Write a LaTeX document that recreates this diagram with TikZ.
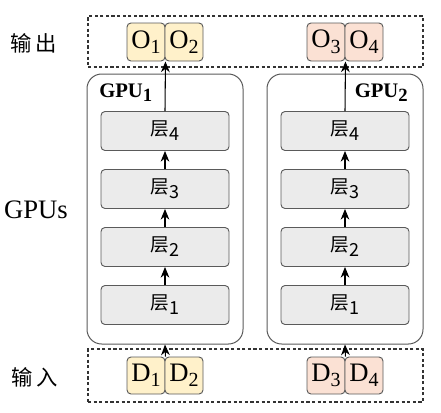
\documentclass[tikz,border=0pt]{standalone}
\usepackage{fontspec}
\setmainfont{Liberation Serif}
\newfontfamily\cjk{Noto Sans CJK SC}
\usetikzlibrary{arrows.meta}
\definecolor{edgegray}{HTML}{5A5A5A}
\definecolor{layerfill}{HTML}{EBEBEB}
\definecolor{yellowfill}{HTML}{FFF1CA}
\definecolor{pinkfill}{HTML}{FBE1D4}
\newcommand\dsub[1]{\raisebox{-0.45ex}{\fontsize{15}{15}\selectfont #1}}
\newcommand\lsub[1]{\raisebox{-0.5ex}{\fontsize{13.5}{13.5}\selectfont #1}}
\newcommand\gsub[1]{\raisebox{-0.4ex}{\fontsize{14}{14}\selectfont\bfseries #1}}
\begin{document}
\begin{tikzpicture}[x=0.75pt,y=-0.75pt,
  dashbox/.style={draw=black!80,line width=0.8pt,dash pattern=on 2.4pt off 1.8pt,inner sep=0pt},
  gpubox/.style={draw=edgegray,line width=0.75pt,rounded corners=11pt,inner sep=0pt,minimum width=156*0.75pt,minimum height=270*0.75pt},
  layerbox/.style={draw=edgegray,fill=layerfill,line width=0.7pt,rounded corners=3pt,inner sep=0pt,minimum width=128*0.75pt,minimum height=39*0.75pt,font=\cjk\fontsize{14}{15}\selectfont},
  databox/.style={draw=edgegray,line width=0.7pt,rounded corners=3pt,inner sep=0pt,minimum width=38*0.75pt,minimum height=38*0.75pt,font=\fontsize{20}{22}\selectfont},
  ybox/.style={databox,fill=yellowfill},
  pbox/.style={databox,fill=pinkfill},
  arr/.style={-{Stealth[length=8pt,width=6.5pt,inset=2.5pt]},line width=0.8pt,black},
  sidelabel/.style={inner sep=0pt,font=\fontsize{20}{22}\selectfont},
  cjklabel/.style={inner sep=0pt,font=\cjk\fontsize{16}{17}\selectfont},
  gpulabel/.style={inner sep=0pt,font=\fontsize{15.5}{17}\selectfont\bfseries}]
\useasboundingbox (0,0) rectangle (441,412);
% dashed containers
\node[dashbox,minimum width=335*0.75pt,minimum height=51*0.75pt] (outbox) at (255.5,41.5) {};
\node[dashbox,minimum width=335*0.75pt,minimum height=53*0.75pt] (inbox) at (255.5,375.5) {};
% GPU boxes
\node[gpubox] (g1) at (165,209) {};
\node[gpubox] (g2) at (345,209) {};
\node[gpulabel,anchor=west] (g1l) at (99,93) {GPU\gsub{1}};
\node[gpulabel,anchor=east] (g2l) at (408,93) {GPU\gsub{2}};
% outputs
\node[ybox] (o1) at (146,42) {O\dsub{1}};
\node[ybox] (o2) at (184,42) {O\dsub{2}};
\node[pbox] (o3) at (326,42) {O\dsub{3}};
\node[pbox] (o4) at (364,42) {O\dsub{4}};
% inputs
\node[ybox,minimum height=37*0.75pt] (d1) at (146,375.5) {D\dsub{1}};
\node[ybox,minimum height=37*0.75pt] (d2) at (184,375.5) {D\dsub{2}};
\node[pbox,minimum height=37*0.75pt] (d3) at (326,375.5) {D\dsub{3}};
\node[pbox,minimum height=37*0.75pt] (d4) at (364,375.5) {D\dsub{4}};
% layers
\foreach \g/\x in {a/165,b/345}{
  \node[layerbox] (\g1) at (\x,305) {层\lsub{1}};
  \node[layerbox] (\g2) at (\x,247) {层\lsub{2}};
  \node[layerbox] (\g3) at (\x,189) {层\lsub{3}};
  \node[layerbox] (\g4) at (\x,131) {层\lsub{4}};
}
% arrows
\draw[arr] (d1.north east) -- (g1.south);
\draw[arr] (d3.north east) -- (g2.south);
\foreach \g in {a,b}{
  \draw[arr] (\g1.north) -- (\g2.south);
  \draw[arr] (\g2.north) -- (\g3.south);
  \draw[arr] (\g3.north) -- (\g4.south);
}
\draw[arr] (a4.north) -- (o1.south east);
\draw[arr] (b4.north) -- (o3.south east);
% side labels
\node[cjklabel] (lout) at (34,43) {输\hspace{3pt}出};
\node[sidelabel] (lgpu) at (36,210) {GPUs};
\node[cjklabel] (lin) at (35,377) {输\hspace{3pt}入};
\end{tikzpicture}
\end{document}
